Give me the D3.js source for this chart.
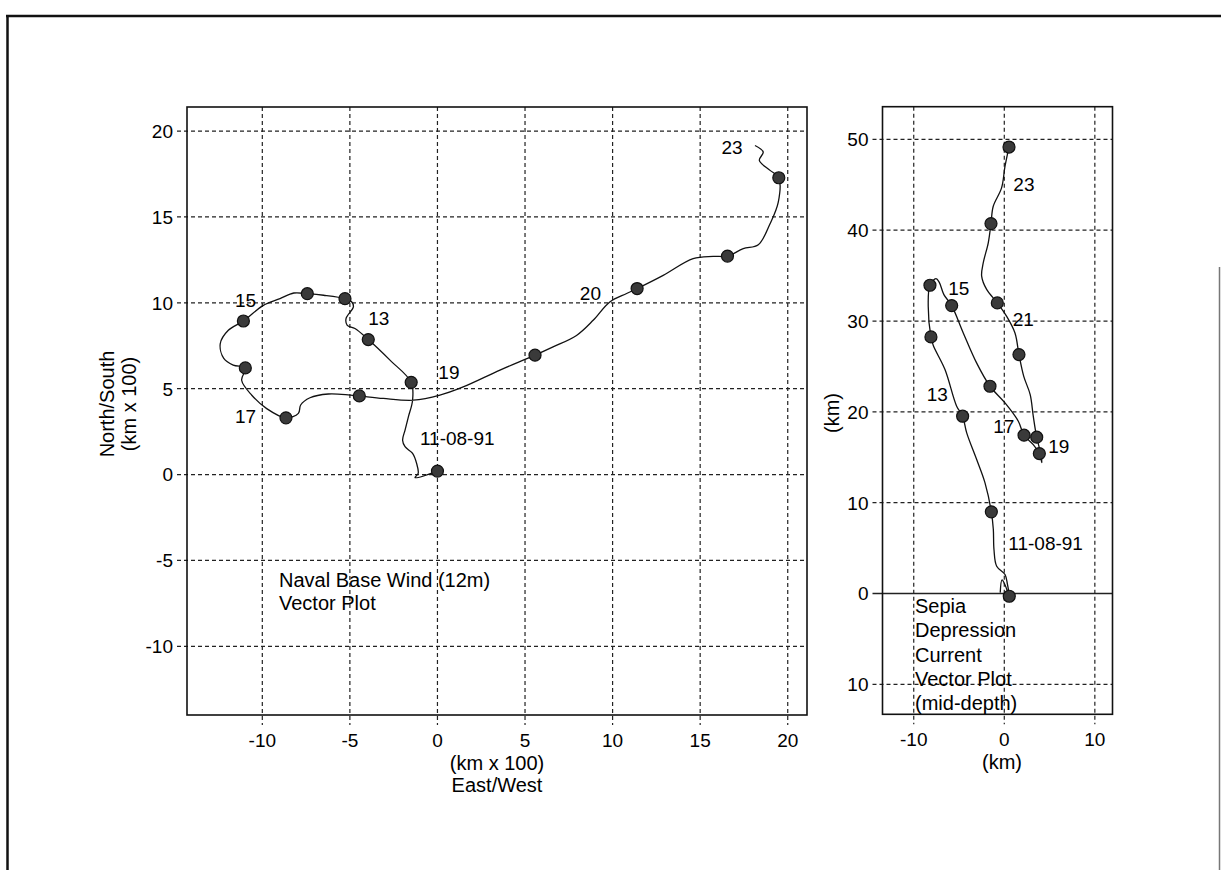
<!DOCTYPE html>
<html>
<head>
<meta charset="utf-8">
<script src="https://cdn.jsdelivr.net/npm/d3@7"></script>
<style>
  body { margin: 0; background: #fff; }
  svg { display: block; }
  text { font-family: "Liberation Sans", Arial, Helvetica, sans-serif; fill: #000; }
</style>
</head>
<body>
<svg id="chart" width="1221" height="870"></svg>
<script>
// ---- wind panel (km x 100) ----
const windXTicks = [-10, -5, 0, 5, 10, 15, 20];
const windYTicks = [-10, -5, 0, 5, 10, 15, 20];
// progressive vector track
const windTrack = [
  [0, 0.2], [-1.28, -0.18], [-1.1, 0.07], [-1.19, 0.65], [-1.42, 1.23], [-1.85, 1.62],
  [-1.99, 2.0], [-1.85, 2.59], [-1.66, 3.36], [-1.42, 4.33], [-1.5, 5.37], [-2.71, 6.66],
  [-3.95, 7.86], [-4.71, 8.5], [-5.15, 8.69], [-5.22, 9.08], [-4.8, 9.76], [-4.9, 10.06],
  [-5.28, 10.24], [-6.5, 10.44], [-7.43, 10.53], [-8.2, 10.57], [-8.99, 10.24], [-9.94, 9.85],
  [-11.08, 8.94], [-11.94, 8.4], [-12.4, 7.63], [-12.2, 6.76], [-11.66, 6.37], [-10.97, 6.21],
  [-11.18, 5.49], [-10.6, 4.62], [-9.75, 3.84], [-8.65, 3.3], [-7.94, 3.56], [-7.81, 4.05],
  [-7.28, 4.47], [-6.23, 4.69], [-4.99, 4.63], [-4.46, 4.58], [-3.09, 4.43], [-1.38, 4.33],
  [0.14, 4.62], [1.47, 5.1], [3.57, 6.08], [5.57, 6.95], [6.6, 7.43], [7.94, 8.1],
  [8.89, 8.98], [9.84, 10.05], [10.8, 10.54], [11.4, 10.83], [12.89, 11.6], [14.6, 12.57],
  [15.74, 12.7], [16.56, 12.72], [17.46, 13.15], [18.32, 13.38], [18.99, 14.6], [19.46, 15.86],
  [19.49, 17.28], [18.99, 17.71], [18.38, 18.29], [18.6, 18.78], [18.13, 19.16]
];
const windDots = [
  [0, 0.2], [-1.5, 5.37], [-3.95, 7.86], [-5.28, 10.24], [-7.43, 10.53], [-11.08, 8.94],
  [-10.97, 6.21], [-8.65, 3.3], [-4.46, 4.58], [5.57, 6.95], [11.4, 10.83], [16.56, 12.72],
  [19.49, 17.28]
];
const windLabels = [
  { text: "11-08-91", x: -1.0, y: 1.72 }, { text: "13", x: -3.95, y: 8.69 },
  { text: "15", x: -11.56, y: 9.76 }, { text: "17", x: -11.56, y: 2.98 },
  { text: "19", x: 0.05, y: 5.59 }, { text: "20", x: 8.13, y: 10.15 },
  { text: "23", x: 16.22, y: 18.67 }
];
const windNote = ["Naval Base Wind (12m)", "Vector Plot"];

// ---- current panel (km) ----
const curXTicks = [-10, 0, 10];
const curYTicks = [-10, 0, 10, 20, 30, 40, 50];
const curYTickText = ["10", "0", "10", "20", "30", "40", "50"];
const curTrack = [
  [-0.45, 0.1], [-0.25, 1.5], [0.1, 0.9], [0.55, -0.3], [0.35, 1.0], [0.08, 2.09],
  [-0.84, 3.0], [-1.14, 4.84], [-1.21, 7.04], [-1.43, 8.99], [-2.13, 12.18], [-3.05, 14.75],
  [-4.15, 17.69], [-4.6, 19.52], [-5.26, 20.62], [-6.55, 24.66], [-7.84, 27.31], [-8.1, 28.25],
  [-8.4, 31.63], [-8.21, 33.94], [-7.54, 34.67], [-7.18, 34.26], [-6.67, 32.91], [-5.81, 31.7],
  [-4.53, 28.69], [-3.06, 25.39], [-1.58, 22.82], [0.08, 20.99], [1.55, 18.97], [2.18, 17.43],
  [3.2, 16.4], [3.87, 15.41], [4.15, 14.4], [4.0, 15.5], [3.58, 17.21], [3.2, 19.52],
  [2.86, 21.9], [2.15, 23.9], [1.62, 26.31], [1.18, 28.69], [0.26, 30.52], [-0.77, 32.0],
  [-1.95, 33.48], [-2.5, 34.95], [-2.32, 36.42], [-1.77, 38.62], [-1.47, 40.73], [-1.22, 42.64],
  [-0.3, 44.66], [0.08, 47.05], [0.52, 49.16]
];
const curDots = [
  [0.55, -0.3], [-1.43, 8.99], [-4.6, 19.52], [-8.1, 28.25], [-8.21, 33.94], [-5.81, 31.7],
  [-1.58, 22.82], [2.18, 17.43], [3.87, 15.41], [3.58, 17.21], [1.62, 26.31], [-0.77, 32.0],
  [-1.47, 40.73], [0.52, 49.16]
];
const curLabels = [
  { text: "11-08-91", x: 0.44, y: 4.84 }, { text: "13", x: -8.57, y: 21.17 },
  { text: "15", x: -6.19, y: 32.91 }, { text: "17", x: -1.22, y: 17.69 },
  { text: "19", x: 4.86, y: 15.49 }, { text: "21", x: 0.93, y: 29.42 },
  { text: "23", x: 1.0, y: 44.28 }
];
const curNote = ["Sepia", "Depression", "Current", "Vector Plot", "(mid-depth)"];


class vectorPanel {

    constructor(_config) {
        this.config = {
            svg: _config.svg,
            left: _config.left, right: _config.right,
            top: _config.top, bottom: _config.bottom,
            xDomain: _config.xDomain, yDomain: _config.yDomain,
        };
        Object.assign(this, _config);
        this.initVis();
    }

    initVis() {
        let vis = this;
        let c = vis.config;

        vis.xScale = d3.scaleLinear().domain(c.xDomain).range([c.left, c.right]);
        vis.yScale = d3.scaleLinear().domain(c.yDomain).range([c.bottom, c.top]);

        vis.g = d3.select(c.svg).append('g');
    }

    render() {
        let vis = this;
        let c = vis.config;
        let g = vis.g;

        // dashed grid + outside ticks
        g.append('g').selectAll('line')
            .data(vis.xTicks)
            .join('line')
            .attr('x1', d => vis.xScale(d)).attr('x2', d => vis.xScale(d))
            .attr('y1', c.top).attr('y2', c.bottom + vis.tickLen)
            .attr('stroke', '#222').attr('stroke-width', 1.2)
            .attr('stroke-dasharray', '4,3');

        g.append('g').selectAll('line')
            .data(vis.yTicks)
            .join('line')
            .attr('x1', c.left - vis.tickLen).attr('x2', c.right)
            .attr('y1', d => vis.yScale(d)).attr('y2', d => vis.yScale(d))
            .attr('stroke', '#222').attr('stroke-width', d => (vis.solidZero && d === 0) ? 1.6 : 1.2)
            .attr('stroke-dasharray', d => (vis.solidZero && d === 0) ? null : '4,3');

        // frame
        g.append('rect')
            .attr('x', c.left).attr('y', c.top)
            .attr('width', c.right - c.left).attr('height', c.bottom - c.top)
            .attr('fill', 'none').attr('stroke', '#111').attr('stroke-width', 1.6);

        // tick labels
        g.append('g').selectAll('text')
            .data(vis.xTicks)
            .join('text')
            .attr('x', d => vis.xScale(d))
            .attr('y', vis.xLabelY)
            .attr('text-anchor', 'middle')
            .style('font-size', '19px')
            .text(d => d);

        g.append('g').selectAll('text')
            .data(vis.yTicks)
            .join('text')
            .attr('x', c.left - vis.tickLen - 4)
            .attr('y', d => vis.yScale(d))
            .attr('dy', '0.36em')
            .attr('text-anchor', 'end')
            .style('font-size', '19px')
            .text((d, i) => vis.yTickText ? vis.yTickText[i] : d);

        // track
        let line = d3.line()
            .x(d => vis.xScale(d[0]))
            .y(d => vis.yScale(d[1]))
            .curve(d3.curveCatmullRom.alpha(0.5));

        g.append('path')
            .datum(vis.track)
            .attr('d', line)
            .attr('fill', 'none')
            .attr('stroke', '#111')
            .attr('stroke-width', 1.3);

        g.append('g').selectAll('circle')
            .data(vis.dots)
            .join('circle')
            .attr('cx', d => vis.xScale(d[0]))
            .attr('cy', d => vis.yScale(d[1]))
            .attr('r', 6)
            .attr('fill', '#3a3a3a')
            .attr('stroke', '#111')
            .attr('stroke-width', 1.2);

        // day labels
        g.append('g').selectAll('text')
            .data(vis.labels)
            .join('text')
            .attr('x', d => vis.xScale(d.x))
            .attr('y', d => vis.yScale(d.y))
            .style('font-size', '19px')
            .text(d => d.text);

        // note block
        g.append('g').selectAll('text')
            .data(vis.note)
            .join('text')
            .attr('x', vis.noteX)
            .attr('y', (d, i) => vis.noteY + i * vis.noteStep)
            .style('font-size', vis.noteSize)
            .text(d => d);
    }
}

const svg = d3.select('#chart');

// page border from the scan
svg.append('line').attr('x1', 6).attr('x2', 1221).attr('y1', 16).attr('y2', 16)
    .attr('stroke', '#111').attr('stroke-width', 2.5);
svg.append('line').attr('x1', 7.5).attr('x2', 7.5).attr('y1', 15).attr('y2', 870)
    .attr('stroke', '#111').attr('stroke-width', 2.5);
svg.append('line').attr('x1', 1219.5).attr('x2', 1219.5).attr('y1', 267).attr('y2', 870)
    .attr('stroke', '#777').attr('stroke-width', 1.5);

let wind = new vectorPanel({
    svg: '#chart',
    left: 187, right: 807, top: 107, bottom: 715,
    xDomain: [-14.3, 21.1], yDomain: [-14.0, 21.4],
    xTicks: windXTicks, yTicks: windYTicks,
    track: windTrack, dots: windDots, labels: windLabels,
    note: windNote, noteX: 279, noteY: 587, noteStep: 23, noteSize: '20px',
    tickLen: 10, xLabelY: 747, solidZero: false
});
wind.render();

let current = new vectorPanel({
    svg: '#chart',
    left: 882.5, right: 1112.5, top: 106.7, bottom: 714.3,
    xDomain: [-13.45, 11.95], yDomain: [-13.3, 53.6],
    xTicks: curXTicks, yTicks: curYTicks, yTickText: curYTickText,
    track: curTrack, dots: curDots, labels: curLabels,
    note: curNote, noteX: 915, noteY: 613, noteStep: 24.3, noteSize: '20px',
    tickLen: 10, xLabelY: 746, solidZero: true
});
current.render();

// axis titles
svg.append('text').attr('x', 497).attr('y', 770).attr('text-anchor', 'middle')
    .style('font-size', '20px').text('(km x 100)');
svg.append('text').attr('x', 497).attr('y', 792).attr('text-anchor', 'middle')
    .style('font-size', '20px').text('East/West');
svg.append('text').attr('x', 1002).attr('y', 769).attr('text-anchor', 'middle')
    .style('font-size', '20px').text('(km)');

svg.append('text').attr('transform', 'translate(114,404) rotate(-90)').attr('text-anchor', 'middle')
    .style('font-size', '20px').text('North/South');
svg.append('text').attr('transform', 'translate(136,404) rotate(-90)').attr('text-anchor', 'middle')
    .style('font-size', '20px').text('(km x 100)');
svg.append('text').attr('transform', 'translate(839,413) rotate(-90)').attr('text-anchor', 'middle')
    .style('font-size', '20px').text('(km)');
</script>
</body>
</html>
